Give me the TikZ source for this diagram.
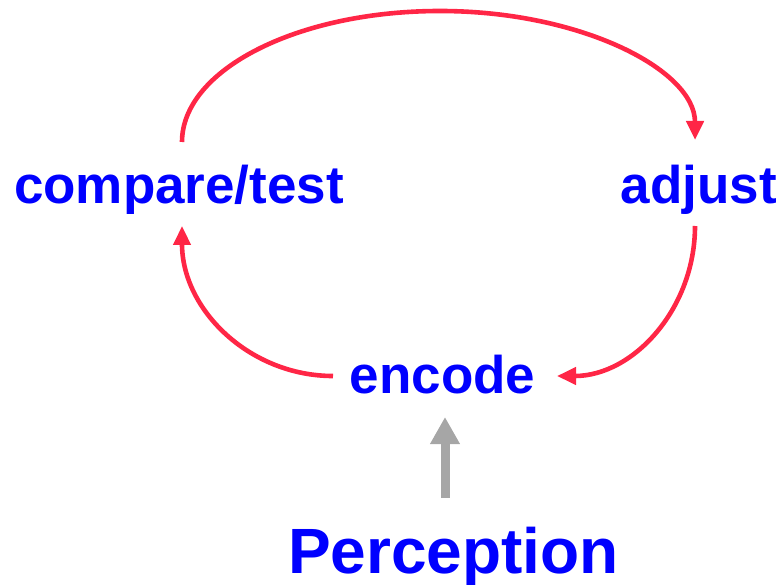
\documentclass[tikz,border=0pt]{standalone}
\usepackage{fontspec}
\setmainfont{Liberation Sans}
\usetikzlibrary{arrows.meta}
\definecolor{labelblue}{RGB}{0,0,255}
\definecolor{loopred}{RGB}{255,38,70}
\definecolor{inputgray}{RGB}{166,166,166}
\tikzset{
  label text/.style={font=\fontsize{53}{60}\selectfont\bfseries, text=labelblue, inner sep=0pt, anchor=base},
  big text/.style={font=\fontsize{64}{72}\selectfont\bfseries, text=labelblue, inner sep=0pt, anchor=base},
  loop arrow/.style={draw=loopred, line width=4.6pt, -{Triangle[length=19pt,width=17pt]}},
  input arrow/.style={draw=inputgray, line width=9pt, -{Triangle[length=27pt,width=28pt]}},
}
\begin{document}
\begin{tikzpicture}[x=1pt,y=-1pt]
  \useasboundingbox (0,0) rectangle (784,585);

  % labels
  \node[label text] (cmp)  at (179,204) {compare/test};
  \node[label text] (adj)  at (699,204) {adjust};
  \node[label text] (enc)  at (442.5,393) {encode};
  \node[big text]   (perc) at (453.5,573) {Perception};

  % connector end points around the labels
  \coordinate (cmpTop) at (182,142);
  \coordinate (cmpBot) at (182,226);
  \coordinate (adjTop) at (695,140);
  \coordinate (adjBot) at (695,226);
  \coordinate (encL)   at (333,376);
  \coordinate (encR)   at (557,376);
  \coordinate (encBot) at (445,417);
  \coordinate (percTop) at (445,498);

  % feedback loop
  \draw[loop arrow] (cmpTop) .. controls (182,70) and (297,11) .. (440,11)
                              .. controls (581,11) and (695,70) .. (adjTop);
  \draw[loop arrow] (adjBot) .. controls (695,309) and (633,376) .. (encR);
  \draw[loop arrow] (encL) .. controls (250,376) and (182,310) .. (cmpBot);

  % perceptual input
  \draw[input arrow] (percTop) -- (encBot);
\end{tikzpicture}
\end{document}
